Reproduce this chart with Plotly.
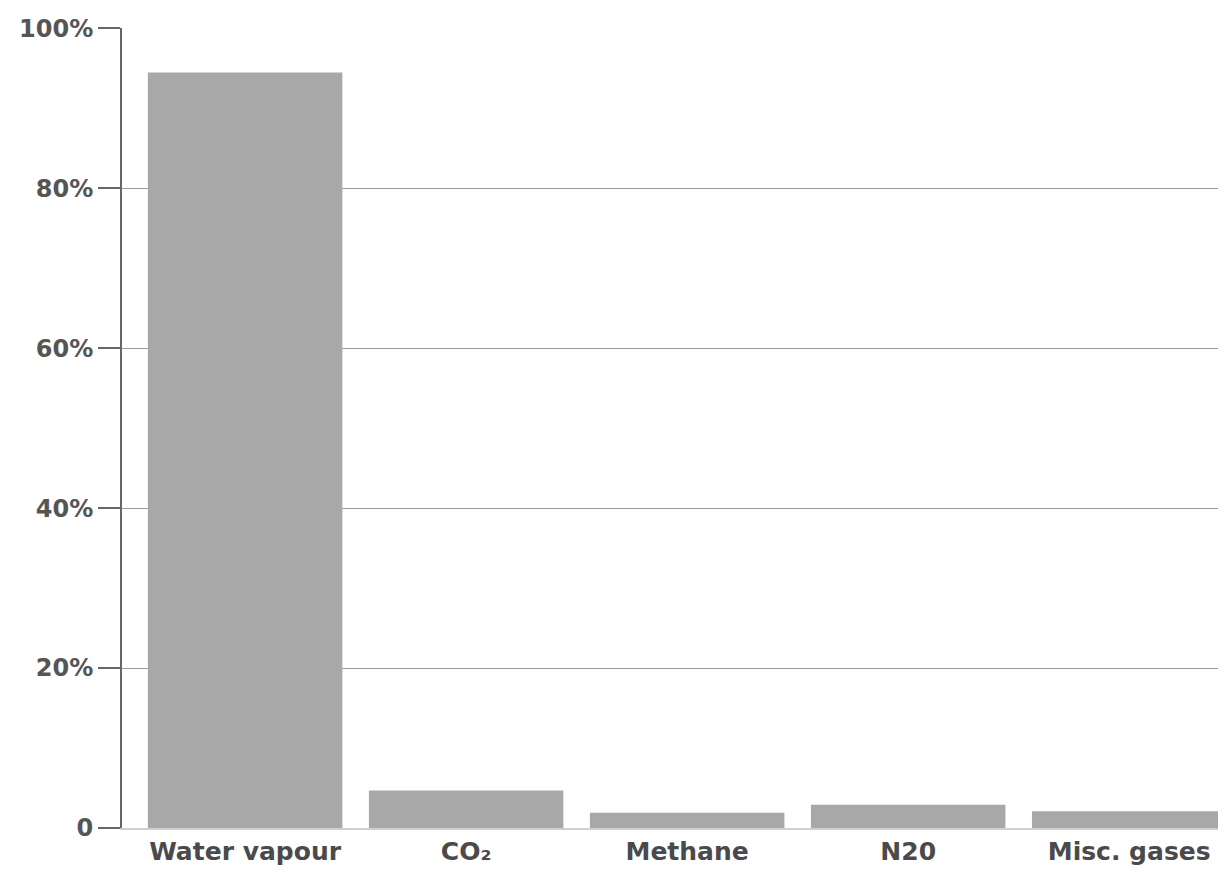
import plotly.graph_objects as go

categories = ["Water vapour", "CO₂", "Methane", "N20", "Misc. gases"]
values = [94.5, 4.7, 1.9, 2.9, 2.1]
tick_vals = [0, 20, 40, 60, 80, 100]
tick_text = ["0", "20%", "40%", "60%", "80%", "100%"]

fig = go.Figure(go.Bar(
    x=categories, y=values,
    marker=dict(color="#a8a8a8", line=dict(width=0)),
    width=0.88,
))

fig.update_layout(
    width=1218, height=867,
    margin=dict(l=114, r=0, t=20, b=47),
    paper_bgcolor="white", plot_bgcolor="white",
    showlegend=False,
    font=dict(family="DejaVu Sans, sans-serif", color="#3a3a3a", size=24),
    xaxis=dict(
        range=[-0.557, 4.438],
        showline=True, linecolor="#cfcfcf", linewidth=2,
        showgrid=False, ticks="",
        tickfont=dict(size=25, color="#4a4a4a", weight="bold"),
    ),
    yaxis=dict(
        range=[0, 100.05],
        tickvals=tick_vals, ticktext=tick_text,
        showline=True, linecolor="#666", linewidth=2,
        ticks="outside", ticklen=22, tickcolor="#666", tickwidth=2,
        showgrid=True, gridcolor="#9a9a9a", gridwidth=1,
        zeroline=False,
        tickfont=dict(size=24, color="#555", weight="bold"),
    ),
)

fig.write_html("out.html")
